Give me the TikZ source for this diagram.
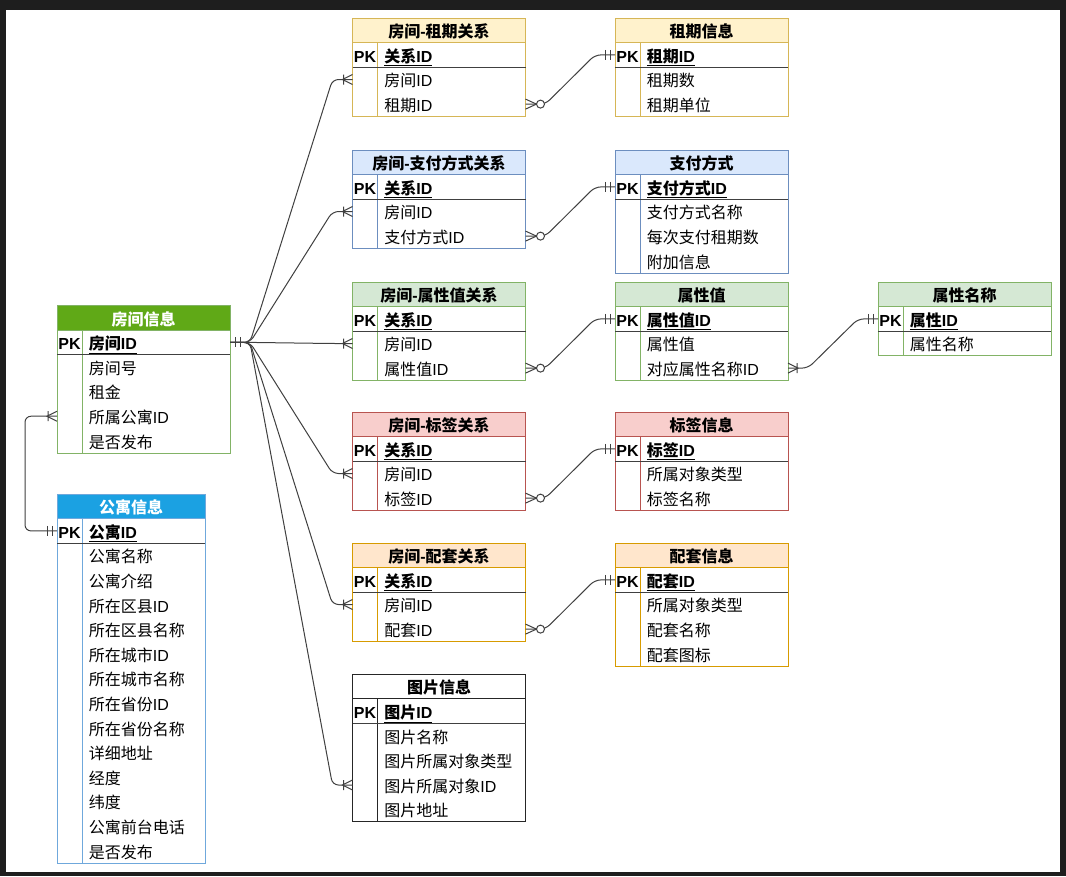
\documentclass[tikz,border=0pt]{standalone}
\usepackage{fontspec}
\setmainfont{Liberation Sans}
\newfontfamily\cjkfont{Noto Sans CJK SC}
% CJK ideographs go to the CJK face, the rest stays in Liberation Sans
\XeTeXinterchartokenstate=1
\newXeTeXintercharclass\cjkcls
\count255="4E00
\loop
  \XeTeXcharclass\count255=\cjkcls
  \advance\count255 by 1
\ifnum\count255<"A000 \repeat
\XeTeXinterchartoks 0 \cjkcls = {\cjkfont}
\XeTeXinterchartoks 4095 \cjkcls = {\cjkfont}
\XeTeXinterchartoks \cjkcls 0 = {\rmfamily}

\usetikzlibrary{calc}

\definecolor{frameC}{HTML}{1E1E1E}
\definecolor{yelF}{HTML}{FFF2CC}\definecolor{yelD}{HTML}{D6B656}
\definecolor{bluF}{HTML}{DAE8FC}\definecolor{bluD}{HTML}{6C8EBF}
\definecolor{grnF}{HTML}{D5E8D4}\definecolor{grnD}{HTML}{82B366}
\definecolor{redF}{HTML}{F8CECC}\definecolor{redD}{HTML}{B85450}
\definecolor{orgF}{HTML}{FFE6CC}\definecolor{orgD}{HTML}{D79B00}
\definecolor{roomF}{HTML}{60A917}\definecolor{roomD}{HTML}{82B366}
\definecolor{aptF}{HTML}{1BA1E2}\definecolor{aptD}{HTML}{6FA8DC}

\newcommand{\erfont}{\fontsize{12pt}{14pt}\selectfont}

\tikzset{
    tbl/.style={line width=0.7pt},
    yeltab/.style={draw=yelD, fill=yelF},
    blutab/.style={draw=bluD, fill=bluF},
    grntab/.style={draw=grnD, fill=grnF},
    redtab/.style={draw=redD, fill=redF},
    orgtab/.style={draw=orgD, fill=orgF},
    roomtab/.style={draw=roomD, fill=roomF, text=white},
    apttab/.style={draw=aptD, fill=aptF, text=white},
    plaintab/.style={draw=black!85, fill=white},
    hdr/.style={anchor=north west, inner sep=0pt, outer sep=0pt,
                minimum height=18.45pt, line width=0.7pt,
                text height=12pt, text depth=1pt, font=\erfont\bfseries},
    pk/.style={inner sep=0pt, text height=12pt, text depth=1pt,
               font=\erfont\bfseries},
    fld/.style={anchor=west, inner sep=0pt, text height=12pt,
                text depth=1pt, font=\erfont},
    pkline/.style={draw=black!75, line width=0.7pt},
    erline/.style={draw=black!75, line width=0.75pt},
    pics/mone/.style={code={\draw[erline] (5,-5) -- (5,5) (10,-5) -- (10,5);}},
    pics/omany/.style={code={\draw[erline] (0,-5) -- (10,0) -- (0,5) (9,-5) -- (9,5);}},
    pics/zmany/.style={code={\draw[erline] (0,-5) -- (11,0) -- (0,5);
                             \draw[erline, fill=white] (15,0) circle[radius=4];}}
}

% name, colour style, x, y, width, title, key field, other fields
\newcommand{\ertable}[8]{%
    \foreach \f [count=\i] in {#8} {\xdef\nrow{\i}}
    \pgfmathsetmacro{\tblh}{24.6*(\nrow+2)}
    \draw[tbl, #2, fill=white] (#3,#4) rectangle ++(#5,\tblh);
    \draw[tbl, #2, fill=none] (#3+25,#4+24.6) -- (#3+25,#4+\tblh);
    \draw[pkline] (#3,#4+49.2) -- ++(#5,0);
    \node[hdr, #2, minimum width=#5*0.75pt] (#1) at (#3,#4) {#6};
    \node[pk] (#1-k) at (#3+12.5,#4+36.9) {PK};
    \node[fld, font=\erfont\bfseries] (#1-0) at (#3+31.6,#4+36.9) {\underline{#7}};
    \foreach \f [count=\i] in {#8}
        \node[fld] (#1-\i) at (#3+31.6,#4+36.9+24.6*\i) {\f};
}

\begin{document}
\begin{tikzpicture}[x=0.75pt, y=-0.75pt]
    \fill[frameC] (0,0) rectangle (1066,876);
    \fill[white] (6,10) rectangle (1060,872);
    \useasboundingbox (0,0) rectangle (1066,876);

    \ertable{room}{roomtab}{57}{305.5}{173}{房间信息}{房间ID}{房间号, 租金, 所属公寓ID, 是否发布}
    \ertable{apt}{apttab}{57}{494}{148}{公寓信息}{公寓ID}{公寓名称, 公寓介绍, 所在区县ID, 所在区县名称, 所在城市ID, 所在城市名称, 所在省份ID, 所在省份名称, 详细地址, 经度, 纬度, 公寓前台电话, 是否发布}

    \ertable{rterm}{yeltab}{352.5}{18}{173}{房间-租期关系}{关系ID}{房间ID, 租期ID}
    \ertable{term}{yeltab}{615}{18}{173}{租期信息}{租期ID}{租期数, 租期单位}
    \ertable{rpay}{blutab}{352.5}{150}{173}{房间-支付方式关系}{关系ID}{房间ID, 支付方式ID}
    \ertable{pay}{blutab}{615}{150}{173}{支付方式}{支付方式ID}{支付方式名称, 每次支付租期数, 附加信息}
    \ertable{rattr}{grntab}{352.5}{282}{173}{房间-属性值关系}{关系ID}{房间ID, 属性值ID}
    \ertable{attrv}{grntab}{615}{282}{173}{属性值}{属性值ID}{属性值, 对应属性名称ID}
    \ertable{attrn}{grntab}{878}{282}{173}{属性名称}{属性ID}{属性名称}
    \ertable{rtag}{redtab}{352.5}{412}{173}{房间-标签关系}{关系ID}{房间ID, 标签ID}
    \ertable{tag}{redtab}{615}{412}{173}{标签信息}{标签ID}{所属对象类型, 标签名称}
    \ertable{rfac}{orgtab}{352.5}{543}{173}{房间-配套关系}{关系ID}{房间ID, 配套ID}
    \ertable{fac}{orgtab}{615}{543}{173}{配套信息}{配套ID}{所属对象类型, 配套名称, 配套图标}
    \ertable{img}{plaintab}{352.5}{674.3}{173}{图片信息}{图片ID}{图片名称, 图片所属对象类型, 图片所属对象ID, 图片地址}

    % room -> link tables
    \foreach \tb/\rw in {rterm/1, rpay/1, rattr/1, rtag/1, rfac/1, img/3} {
        \draw[erline, rounded corners=4.5pt] (room.east |- room-0) -- ++(20,0)
            -- ($(\tb.west |- \tb-\rw)+(-20,0)$) -- (\tb.west |- \tb-\rw);
        \path (\tb.west |- \tb-\rw) pic[xscale=-1] {omany};
    }
    \path (room.east |- room-0) pic {mone};

    % apartment -> room
    \draw[erline, rounded corners=4.5pt] (apt.west |- apt-0) -- ++(-32,0) |- (room.west |- room-3);
    \path (apt.west |- apt-0) pic[xscale=-1] {mone};
    \path (room.west |- room-3) pic[xscale=-1] {omany};

    % link tables -> lookup tables
    \foreach \a/\b in {rterm/term, rpay/pay, rattr/attrv, rtag/tag, rfac/fac} {
        \draw[erline, rounded corners=4.5pt] (\a.east |- \a-2) -- ++(20,0)
            -- ($(\b.west |- \b-0)+(-20,0)$) -- (\b.west |- \b-0);
        \path (\a.east |- \a-2) pic {zmany};
        \path (\b.west |- \b-0) pic[xscale=-1] {mone};
    }

    % attribute value -> attribute name
    \draw[erline, rounded corners=4.5pt] (attrv.east |- attrv-2) -- ++(20,0)
        -- ($(attrn.west |- attrn-0)+(-20,0)$) -- (attrn.west |- attrn-0);
    \path (attrv.east |- attrv-2) pic {omany};
    \path (attrn.west |- attrn-0) pic[xscale=-1] {mone};
\end{tikzpicture}
\end{document}
